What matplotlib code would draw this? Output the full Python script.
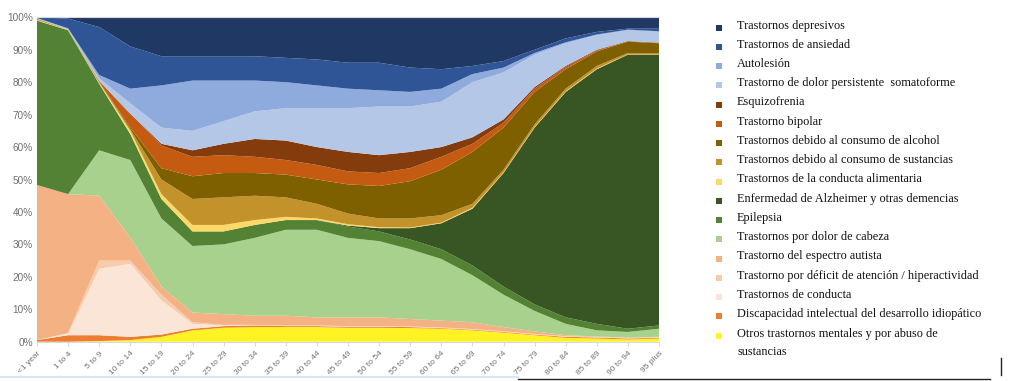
import matplotlib
matplotlib.use("Agg")
import matplotlib.pyplot as plt
import numpy as np
from matplotlib.lines import Line2D
from matplotlib.patches import Rectangle

age_groups = ["<1 year", "1 to 4", "5 to 9", "10 to 14", "15 to 19", "20 to 24",
              "25 to 29", "30 to 34", "35 to 39", "40 to 44", "45 to 49", "50 to 54",
              "55 to 59", "60 to 64", "65 to 69", "70 to 74", "75 to 79", "80 to 84",
              "85 to 89", "90 to 94", "95 plus"]

# share of each disorder per age group (%), bottom of the stack first
otros = [0, 0, 0.2, 0.5, 1.5, 3.5, 4.3, 4.5, 4.5, 4.5, 4.3, 4.3, 4.2, 4.0, 3.5, 2.8, 2.0, 1.2, 1.0, 0.7, 1.0]
discapacidad = [0.5, 2.0, 1.8, 1.0, 0.7, 0.5, 0.5, 0.5, 0.3, 0.3, 0.3, 0.3, 0.3, 0.2, 0.2, 0.2, 0.2, 0.3, 0.3, 0.3, 0.2]
conducta = [0, 0.5, 20.5, 22.5, 10.6, 1.5, 0.2, 0.1, 0.1, 0.1, 0.1, 0.1, 0.1, 0.1, 0.1, 0.1, 0.1, 0.1, 0.1, 0.1, 0.1]
tdah = [0, 0.2, 2.5, 1.0, 1.7, 0.5, 0.2, 0.1, 0.1, 0.1, 0.1, 0.1, 0.1, 0.1, 0.1, 0.1, 0.1, 0.1, 0.1, 0.1, 0.1]
autista = [47.8, 42.8, 20.0, 7.0, 2.5, 3.0, 3.3, 2.8, 3.0, 2.5, 2.7, 2.7, 2.3, 2.1, 2.1, 1.3, 0.8, 0.3, 0.1, 0.1, 0.1]
cabeza = [0, 0, 14.0, 24.0, 21.0, 20.5, 21.5, 24.0, 26.5, 27.0, 24.5, 23.5, 21.5, 19.0, 14.5, 10.0, 6.3, 3.5, 1.9, 1.7, 2.5]
epilepsia = [50.7, 50.5, 20.5, 8.0, 6.0, 4.5, 4.0, 4.0, 3.0, 3.0, 3.5, 3.0, 3.0, 3.0, 3.0, 2.5, 2.0, 2.0, 2.0, 1.0, 1.0]
alzheimer = [0, 0, 0, 0, 0, 0, 0, 0, 0, 0, 0.3, 1.0, 3.5, 8.0, 17.5, 35.0, 54.5, 69.5, 78.5, 84.5, 83.5]
alimentaria = [0.2, 0.1, 0.3, 1.0, 1.5, 2.0, 2.0, 1.5, 1.0, 0.5, 0.4, 0.3, 0.2, 0.2, 0.3, 0.2, 0.2, 0.2, 0.2, 0.1, 0.1]
sustancias = [0.4, 0.1, 0.2, 0.5, 4.5, 8.0, 8.5, 7.5, 6.0, 4.5, 3.3, 2.7, 2.8, 2.3, 1.2, 0.8, 0.8, 0.8, 0.8, 0.4, 0.4]
alcohol = [0, 0, 0.1, 0.5, 3.5, 7.0, 7.5, 7.0, 7.0, 7.5, 9.0, 10.0, 11.5, 14.0, 16.0, 13.0, 10.0, 6.0, 4.5, 3.5, 3.0]
bipolar = [0, 0, 0.3, 4.0, 7.0, 6.0, 5.5, 5.0, 4.5, 4.5, 4.0, 4.0, 4.0, 4.0, 2.5, 1.5, 1.0, 0.7, 0.3, 0.1, 0.1]
esquizofrenia = [0, 0, 0, 0.3, 0.5, 2.0, 3.5, 5.5, 6.0, 5.5, 6.0, 5.5, 5.0, 3.0, 2.0, 1.0, 0.5, 0.3, 0.2, 0.1, 0.1]
persistente = [0.1, 0.2, 0.8, 3.2, 5.0, 6.0, 7.0, 8.5, 10.0, 12.0, 13.5, 15.0, 14.0, 14.0, 17.0, 14.5, 10.0, 7.0, 4.5, 3.3, 3.3]
autolesion = [0.1, 0.2, 1.0, 4.5, 13.0, 15.5, 12.5, 9.5, 8.0, 7.0, 6.0, 5.0, 4.5, 4.0, 2.5, 1.5, 0.5, 0.3, 0.2, 0.2, 0.2]
ansiedad = [0.2, 3.0, 14.8, 13.0, 9.0, 7.5, 7.5, 7.5, 7.5, 8.0, 8.0, 8.5, 7.5, 6.0, 2.5, 2.0, 1.0, 1.2, 0.8, 0.3, 0.8]
depresivos = [0, 0.4, 3.0, 9.0, 12.0, 12.0, 12.0, 12.0, 12.5, 13.0, 14.0, 14.0, 15.5, 16.0, 15.0, 13.5, 10.0, 6.5, 4.5, 3.5, 3.5]

series = [otros, discapacidad, conducta, tdah, autista, cabeza, epilepsia, alzheimer,
          alimentaria, sustancias, alcohol, bipolar, esquizofrenia, persistente,
          autolesion, ansiedad, depresivos]

labels = [
    "Otros trastornos mentales y por abuso de\nsustancias",
    "Discapacidad intelectual del desarrollo idiopático",
    "Trastornos de conducta",
    "Trastorno por déficit de atención / hiperactividad",
    "Trastorno del espectro autista",
    "Trastornos por dolor de cabeza",
    "Epilepsia",
    "Enfermedad de Alzheimer y otras demencias",
    "Trastornos de la conducta alimentaria",
    "Trastornos debido al consumo de sustancias",
    "Trastornos debido al consumo de alcohol",
    "Trastorno bipolar",
    "Esquizofrenia",
    "Trastorno de dolor persistente  somatoforme",
    "Autolesión",
    "Trastornos de ansiedad",
    "Trastornos depresivos",
]

colors = ["#FFF324", "#ED7D31", "#FBE5D6", "#F8CBAD", "#F4B183", "#A9D18E", "#548235",
          "#375623", "#FFD966", "#C4922A", "#7F6000", "#C55A11", "#843C0C", "#B4C7E7",
          "#8FAADC", "#2F5597", "#203864"]

data = np.array(series, dtype=float)
data = data / data.sum(axis=0) * 100

fig = plt.figure(figsize=(10.24, 3.81), dpi=100)
ax = fig.add_axes([37 / 1024, 1 - 341.7 / 381, 622 / 1024, 324.4 / 381])

x = np.arange(len(age_groups))
ax.stackplot(x, data, colors=colors, linewidth=0)

ax.set_xlim(0, len(age_groups) - 1)
ax.set_ylim(0, 100)
ax.set_yticks(np.arange(0, 101, 10))
ax.set_yticklabels([f"{v}%" for v in range(0, 101, 10)])
ax.set_xticks(x)
ax.set_xticklabels(age_groups, rotation=45, ha="right", rotation_mode="anchor")

ax.tick_params(axis="y", length=0, pad=3, labelsize=7.2, labelcolor="#707070")
ax.tick_params(axis="x", length=3, color="#D9D9D9", pad=3, labelsize=6, labelcolor="#707070")
for lbl in ax.get_xticklabels() + ax.get_yticklabels():
    lbl.set_fontfamily("Liberation Sans")

for side in ("left", "right"):
    ax.spines[side].set_visible(False)
ax.spines["bottom"].set_color("#D9D9D9")
ax.spines["top"].set_color("#D9D9D9")
ax.spines["top"].set_linewidth(0.8)

# legend drawn by hand, top entry first
y0, step = 25.5, 19.25
for i, (label, color) in enumerate(zip(labels[::-1], colors[::-1])):
    yc = y0 + i * step
    n_lines = label.count("\n") + 1
    fig.patches.append(Rectangle((716 / 1024, 1 - (yc + 5) / 381), 6 / 1024, 6 / 381,
                                 transform=fig.transFigure, facecolor=color, edgecolor="none"))
    fig.text(737 / 1024, 1 - (yc + (n_lines - 1) * step / 2) / 381, label, va="center",
             ha="left", fontsize=8.8, family="Liberation Serif", color="#111111",
             linespacing=1.6)

# stray page lines from the original screenshot
fig.add_artist(Line2D([0, 518 / 1024], [1 - 377 / 381] * 2, color="#DCE6F4", lw=1.5,
                      transform=fig.transFigure))
fig.add_artist(Line2D([518 / 1024, 990 / 1024], [1 - 378.5 / 381] * 2, color="#222222",
                      lw=1.0, transform=fig.transFigure))
fig.add_artist(Line2D([1001 / 1024] * 2, [1 - 375 / 381, 1 - 358 / 381], color="#222222",
                      lw=1.0, transform=fig.transFigure))

fig.savefig("out.png", dpi=100)
